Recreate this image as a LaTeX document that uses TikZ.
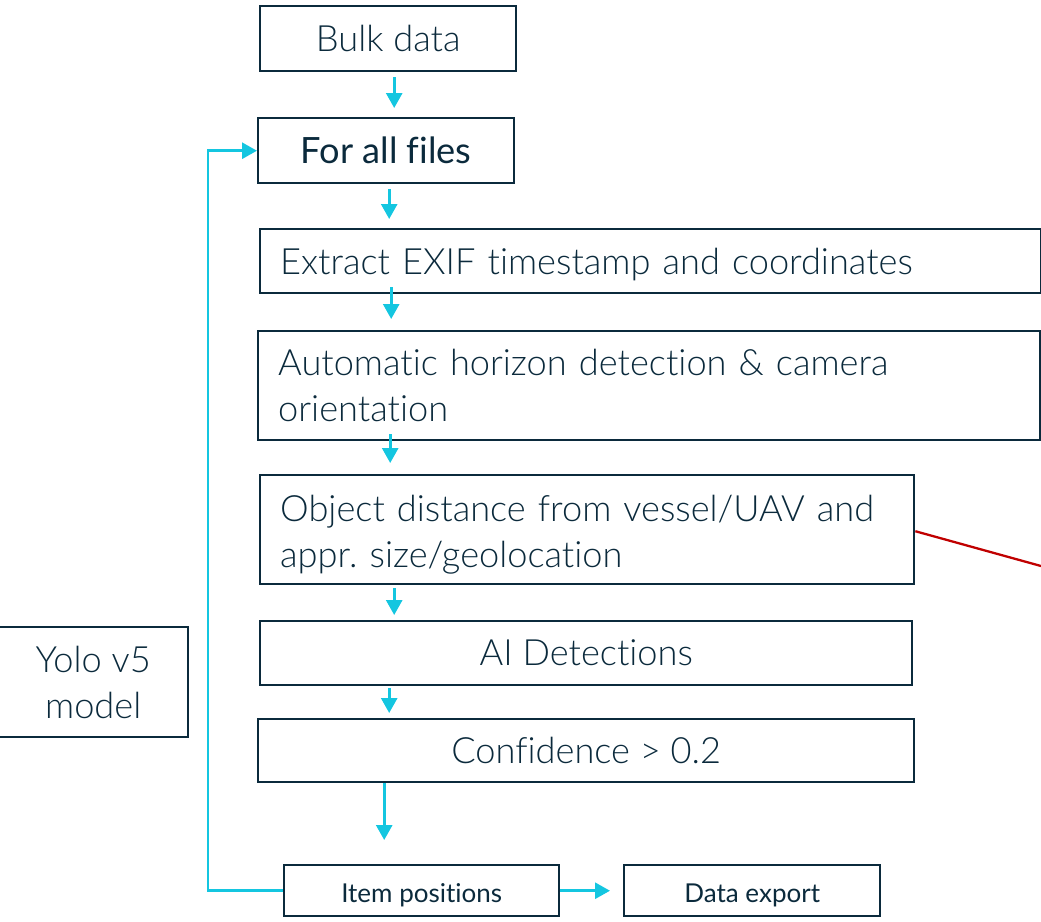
\documentclass[tikz,border=0pt]{standalone}
\usepackage{fontspec}
\setmainfont{Lato}[UprightFont=* Light, Ligatures=NoCommon]
\newfontfamily\regfont{Lato}[Ligatures=NoCommon]
\frenchspacing
\usetikzlibrary{arrows.meta}
\definecolor{navy}{HTML}{0B2A3C}
\definecolor{cyanx}{HTML}{14C6E0}
\definecolor{redx}{HTML}{C00000}
\tikzset{
  box/.style={draw=navy, line width=1.4pt, inner sep=0pt, text=navy, font=\fontsize{20.6}{26}\selectfont, anchor=north west},
  lbox/.style={box, align=left, inner xsep=0.4cm},
  sbox/.style={box, font=\regfont\fontsize{14.8}{16}\selectfont, text depth=0pt, text height=0.46cm},
  arr/.style={draw=cyanx, line width=1.6pt, -{Triangle[width=0.32cm,length=0.3cm]}},
  redline/.style={draw=redx, line width=1.3pt}
}
\begin{document}
\begin{tikzpicture}[x=0.02cm, y=-0.02cm]
\useasboundingbox (0,0) rectangle (1041,922);
\node[box, minimum width=5.12cm, minimum height=1.3cm] (bulk) at (259,5) {Bulk data};
\node[box, minimum width=5.12cm, minimum height=1.3cm, font=\regfont\fontsize{20.6}{26}\selectfont] (forall) at (257,117) {For all files};
\node[lbox, minimum width=15.62cm, minimum height=1.28cm, text width=14.82cm, text depth=0pt] (exif) at (259,228) {Extract EXIF timestamp and coordinates};
\node[lbox, minimum width=15.64cm, minimum height=2.18cm, text width=14.84cm] (horiz) at (257,330) {Automatic horizon detection \& camera\\orientation};
\node[lbox, minimum width=13.08cm, minimum height=2.18cm, text width=12.28cm, text depth=0.86cm] (obj) at (259,474) {Object distance from vessel/UAV and\\appr. size/geolocation};
\node[box, minimum width=13.04cm, minimum height=1.28cm] (ai) at (259,620) {AI Detections};
\node[box, minimum width=13.12cm, minimum height=1.26cm] (conf) at (257,718) {Confidence > 0.2};
\node[sbox, minimum width=5.5cm, minimum height=1.02cm] (item) at (283,864) {Item positions};
\node[sbox, minimum width=5.12cm, minimum height=1.02cm] (export) at (623,864) {Data export};
\node[box, minimum width=3.8cm, minimum height=2.2cm, align=center] (yolo) at (-3,626) {Yolo v5\\model};
\draw[arr, shorten <=0.1cm, shorten >=0.18cm] ([xshift=0.12cm]bulk.south) -- ([xshift=0.12cm]bulk.south |- forall.north);
\draw[arr, shorten <=0.1cm, shorten >=0.18cm] ([xshift=0.06cm]forall.south) -- ([xshift=0.06cm]forall.south |- exif.north);
\draw[arr, shorten <=-0.14cm, shorten >=0.22cm] ([xshift=-5.19cm]exif.south) -- ([xshift=-5.19cm]exif.south |- horiz.north);
\draw[arr, shorten <=-0.14cm, shorten >=0.22cm] ([xshift=-5.18cm]horiz.south) -- ([xshift=-5.18cm]horiz.south |- obj.north);
\draw[arr, shorten <=0.06cm, shorten >=0.1cm] ([xshift=-3.86cm]obj.south) -- ([xshift=-3.86cm]obj.south |- ai.north);
\draw[arr, shorten <=0.04cm, shorten >=0.1cm] ([xshift=-3.94cm]ai.south) -- ([xshift=-3.94cm]ai.south |- conf.north);
\draw[arr, shorten >=0.48cm] ([xshift=-4.04cm]conf.south) -- ([xshift=-4.04cm]conf.south |- item.north);
\draw[arr, shorten >=0.26cm] (item.east) -- (export.west);
\draw[arr] (item.west) -- ++(-1.5cm,0) |- (forall.west);
\coordinate (r1) at (1050,568.5);
\coordinate (r2) at (1050,381);
\draw[redline] ([yshift=-0.03cm]obj.east) -- (r1);
\draw[redline] ([yshift=0.02cm]horiz.east) -- (r2);
\end{tikzpicture}
\end{document}
